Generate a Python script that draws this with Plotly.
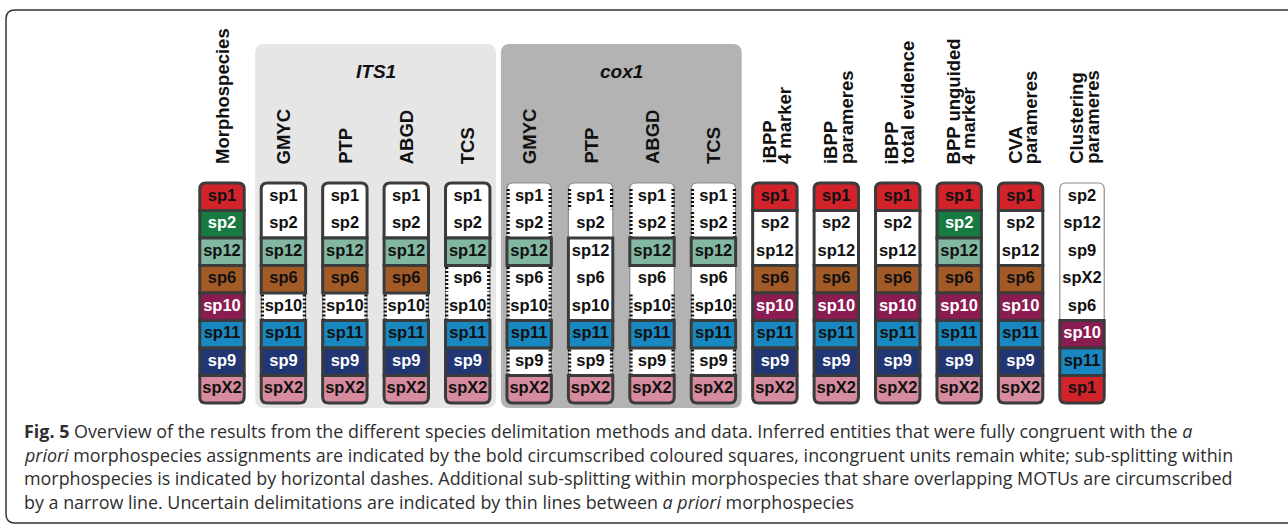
import plotly.graph_objects as go

# ---------------------------------------------------------------- data
species_order = ["sp1", "sp2", "sp12", "sp6", "sp10", "sp11", "sp9", "spX2"]
cluster_order = ["sp2", "sp12", "sp9", "spX2", "sp6", "sp10", "sp11", "sp1"]

species_colors = {
    "sp1": "#d3232a", "sp2": "#177a40", "sp12": "#82b8a2", "sp6": "#a25b26",
    "sp10": "#8b1c52", "sp11": "#1a88c0", "sp9": "#213673", "spX2": "#d68b9e",
}
light_text_species = ["sp2", "sp10", "sp9"]

method_labels = [
    ["Morphospecies"],
    ["GMYC"], ["PTP"], ["ABGD"], ["TCS"],
    ["GMYC"], ["PTP"], ["ABGD"], ["TCS"],
    ["iBPP", "4 marker"], ["iBPP", "parameres"], ["iBPP", "total evidence"],
    ["BPP unguided", "4 marker"], ["CVA", "parameres"], ["Clustering", "parameres"],
]

# inferred units per column, top to bottom; "|" separates units
# M congruent morphospecies, U incongruent unit, S sub-split, N narrow/uncertain
delimitations = [
    "M|M|M|M|M|M|M|M",
    "UU|M|M|S|M|M|M",
    "UU|M|M|S|M|M|M",
    "UU|M|M|S|M|M|M",
    "UU|M|SS|M|M|M",
    "SS|M|SS|M|S|M",
    "SN|UUU|M|S|M",
    "SS|M|NS|M|S|M",
    "SS|M|NS|M|S|M",
    "M|UU|M|M|M|M|M",
    "M|UU|M|M|M|M|M",
    "M|UU|M|M|M|M|M",
    "M|M|M|M|M|M|M|M",
    "M|UU|M|M|M|M|M",
    "NNNNN|M|M|M",
]
row_orders = [species_order] * 14 + [cluster_order]

marker_groups = [("ITS1", [1, 2, 3, 4], "#e6e6e6"), ("cox1", [5, 6, 7, 8], "#b3b3b3")]

caption_lines = [
    "<b>Fig. 5</b> Overview of the results from the different species delimitation methods and data. "
    "Inferred entities that were fully congruent with the <i>a</i>",
    "<i>priori</i> morphospecies assignments are indicated by the bold circumscribed coloured squares, "
    "incongruent units remain white; sub-splitting within",
    "morphospecies is indicated by horizontal dashes. Additional sub-splitting within morphospecies "
    "that share overlapping MOTUs are circumscribed",
    "by a narrow line. Uncertain delimitations are indicated by thin lines between <i>a priori</i> morphospecies",
]

# ---------------------------------------------------------------- geometry / style
W, H = 1288, 531
COL_PX = 61.43          # pixels per column unit
ROW_PX = 27.5           # pixels per row unit
COL0_PX = 222           # pixel centre of first column
TOP_PX = 183            # pixel top of the cell stack
HALF_W = 22.2 / COL_PX  # half column width in data units
BORDER = "#3b3b3b"
THIN = "#8c8c8c"
BOLD_FONT = "Liberation Sans"

x_range = [-COL0_PX / COL_PX, (W - COL0_PX) / COL_PX]
y_range = [(H - TOP_PX) / ROW_PX, -TOP_PX / ROW_PX]


def py(px):
    """pixel row -> y data value"""
    return (px - TOP_PX) / ROW_PX


def rounded_path(x0, x1, y0, y1, round_top, round_bottom, r_px=6.0):
    rx, ry = r_px / COL_PX, r_px / ROW_PX
    tx, ty = (rx, ry) if round_top else (0, 0)
    bx, by = (rx, ry) if round_bottom else (0, 0)
    return (f"M{x0 + tx},{y0} L{x1 - tx},{y0} Q{x1},{y0} {x1},{y0 + ty} "
            f"L{x1},{y1 - by} Q{x1},{y1} {x1 - bx},{y1} L{x0 + bx},{y1} "
            f"Q{x0},{y1} {x0},{y1 - by} L{x0},{y0 + ty} Q{x0},{y0} {x0 + tx},{y0} Z")


shapes = []
annotations = []

# marker panels
for name, cols, color in marker_groups:
    pad = 0.46
    shapes.append(dict(
        type="path", xref="x", yref="y", layer="below",
        path=rounded_path(min(cols) - pad, max(cols) + pad, py(44), py(408), True, True, 9),
        fillcolor=color, line=dict(width=0)))
    annotations.append(dict(
        x=sum(cols) / len(cols), y=py(71), xref="x", yref="y", text=name, showarrow=False,
        font=dict(family=BOLD_FONT, size=19, weight="bold", style="italic", color="#111")))

n_rows = len(species_order)
text_x, text_y, text_s, text_c = [], [], [], []

for ci, (code, order) in enumerate(zip(delimitations, row_orders)):
    x0, x1 = ci - HALF_W, ci + HALF_W
    # whole column outline (narrow line)
    shapes.append(dict(type="path", xref="x", yref="y", layer="below",
                       path=rounded_path(x0, x1, 0, n_rows, True, True),
                       fillcolor="white", line=dict(color=THIN, width=1.2)))
    row = 0
    dashed = []
    for unit in code.split("|"):
        r0, r1 = row, row + len(unit)
        if unit[0] in "MU":
            fill = species_colors[order[r0]] if unit[0] == "M" else "white"
            shapes.append(dict(type="path", xref="x", yref="y", layer="below",
                               path=rounded_path(x0, x1, r0, r1, r0 == 0, r1 == n_rows),
                               fillcolor=fill, line=dict(color=BORDER, width=3)))
        for k, kind in enumerate(unit):
            r = r0 + k
            sp = order[r]
            text_x.append(ci)
            text_y.append(r + 0.5)
            text_s.append(sp)
            light = kind == "M" and sp in light_text_species
            text_c.append("white" if light else "#111111")
            if kind == "S":
                dashed.append(r)
        row = r1
    for r in dashed:
        ya = r + (0.22 if r == 0 else 0.05)
        yb = r + 1 - (0.22 if r == n_rows - 1 else 0.05)
        for xe in (x0 + 1.2 / COL_PX, x1 - 1.2 / COL_PX):
            shapes.append(dict(type="line", xref="x", yref="y", layer="below",
                               x0=xe, x1=xe, y0=ya, y1=yb,
                               line=dict(color="#111111", width=3.2, dash="2px,2px")))

# method labels (rotated)
for ci, lines in enumerate(method_labels):
    n = len(lines)
    for k, line in enumerate(lines):
        annotations.append(dict(
            x=ci, y=py(166), xref="x", yref="y", text=line, showarrow=False,
            textangle=-90, xanchor="center", yanchor="bottom",
            xshift=(k - (n - 1) / 2) * 15.5 + (2 if n > 1 else 0),
            font=dict(family=BOLD_FONT, size=18.5, weight="bold", color="#111")))

# caption
for k, line in enumerate(caption_lines):
    annotations.append(dict(
        x=22 / W, y=1 - (431 + k * 23.6) / H, xref="paper", yref="paper",
        xanchor="left", yanchor="middle", text=line, showarrow=False, align="left",
        font=dict(family="Open Sans", size=17.9, color="#2e2e2e")))

# figure frame
fx0, fx1, fy0, fy1, fr = 6 / W, 1.02, 1 - 10 / H, 1 - 523 / H, 9
rxp, ryp = fr / W, fr / H
shapes.append(dict(
    type="path", xref="paper", yref="paper", layer="below",
    path=(f"M{fx1},{fy0} L{fx0 + rxp},{fy0} Q{fx0},{fy0} {fx0},{fy0 - ryp} "
          f"L{fx0},{fy1 + ryp} Q{fx0},{fy1} {fx0 + rxp},{fy1} L{fx1},{fy1}"),
    line=dict(color="#333333", width=1.5)))

fig = go.Figure(go.Scatter(
    x=text_x, y=text_y, text=text_s, mode="text", hoverinfo="skip",
    textfont=dict(family=BOLD_FONT, size=16.5, weight="bold", color=text_c),
))

fig.update_layout(
    width=W, height=H, margin=dict(l=0, r=0, t=0, b=0),
    paper_bgcolor="white", plot_bgcolor="white", showlegend=False,
    xaxis=dict(range=x_range, visible=False, fixedrange=True),
    yaxis=dict(range=y_range, visible=False, fixedrange=True),
    shapes=shapes, annotations=annotations,
)

fig.write_html("out.html")
